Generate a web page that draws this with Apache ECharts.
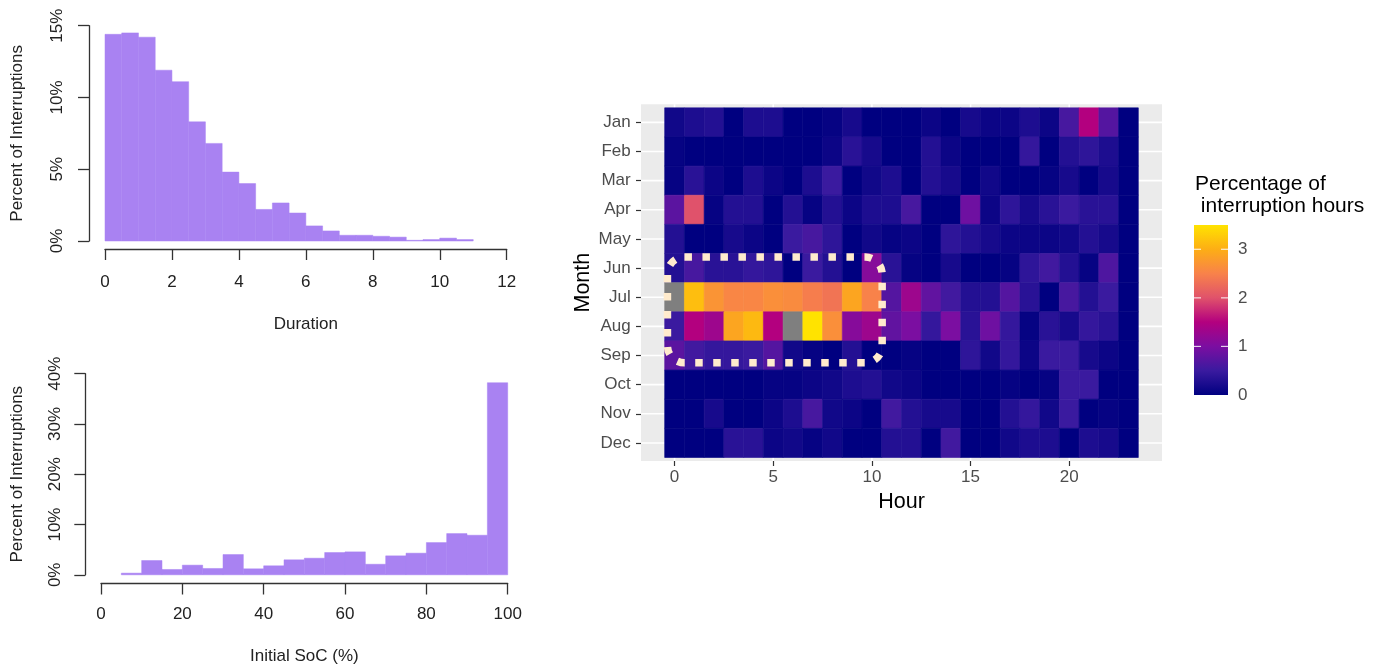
<!DOCTYPE html>
<html>
<head>
<meta charset="utf-8">
<script src="https://cdn.jsdelivr.net/npm/echarts@6/dist/echarts.min.js"></script>
<style>
  html, body { margin: 0; padding: 0; background: #fff; }
  #chart { width: 1388px; height: 666px; }
</style>
</head>
<body>
<div id="chart"></div>
<script>
// duration histogram (hours), bin edges and percent per bin
const durationEdges = [0, 0.5, 1, 1.5, 2, 2.5, 3, 3.5, 4, 4.5, 5, 5.5, 6, 6.5, 7, 7.5, 8, 8.5, 9, 9.5, 10, 10.5, 11];
const durationPct = [14.4, 14.5, 14.2, 11.9, 11.1, 8.3, 6.8, 4.8, 4.0, 2.2, 2.65, 1.95, 1.05, 0.7, 0.4, 0.4, 0.33, 0.27, 0.05, 0.1, 0.2, 0.1];

// initial SoC histogram
const socEdges = [5, 10, 15, 20, 25, 30, 35, 40, 45, 50, 55, 60, 65, 70, 75, 80, 85, 90, 95, 100];
const socPct = [0.33, 2.84, 1.06, 1.92, 1.26, 4.03, 1.19, 1.79, 2.98, 3.3, 4.43, 4.56, 2.1, 3.77, 4.3, 6.41, 8.2, 7.87, 38.2];

// heatmap: percentage of interruption hours, hour 0..23 per month (null = NA, drawn grey)
const months = ['Jan', 'Feb', 'Mar', 'Apr', 'May', 'Jun', 'Jul', 'Aug', 'Sep', 'Oct', 'Nov', 'Dec'];
const hourTicks = [0, 5, 10, 15, 20];
const jan = [0.15, 0.25, 0.3, 0, 0.25, 0.25, 0, 0, 0.05, 0.2, 0, 0, 0, 0.1, 0, 0.2, 0.1, 0.1, 0.25, 0.1, 0.6, 1.5, 0.7, 0];
const feb = [0.05, 0, 0, 0, 0, 0, 0, 0, 0.1, 0.35, 0.2, 0, 0, 0.3, 0.1, 0, 0, 0, 0.45, 0, 0.3, 0.4, 0.25, 0];
const mar = [0.05, 0.35, 0.1, 0, 0.25, 0.1, 0, 0.25, 0.5, 0, 0.15, 0.25, 0, 0.3, 0.2, 0, 0.15, 0, 0, 0.05, 0.2, 0, 0.2, 0];
const apr = [0.75, 2.0, 0.05, 0.3, 0.3, 0, 0.3, 0.05, 0.3, 0.1, 0.25, 0.25, 0.6, 0, 0, 0.9, 0.1, 0.4, 0.2, 0.35, 0.5, 0.35, 0.35, 0];
const may = [0.3, 0, 0, 0.2, 0.1, 0, 0.5, 0.6, 0.4, 0, 0.15, 0.05, 0.1, 0, 0.4, 0.3, 0.2, 0.1, 0.1, 0.1, 0.15, 0.3, 0.2, 0];
const jun = [0.3, 0.6, 0.35, 0.35, 0.45, 0.4, 0, 0.5, 0.3, 0, 1.1, 0.35, 0.05, 0, 0.2, 0, 0, 0.05, 0.4, 0.55, 0.3, 0.05, 0.65, 0];
const jul = [null, 3.15, 2.7, 2.55, 2.55, 2.65, 2.6, 2.45, 2.35, 2.9, 2.5, 0.7, 1.3, 0.8, 0.55, 0.3, 0.3, 0.7, 0.35, 0, 0.6, 0.3, 0.5, 0];
const aug = [0.5, 1.5, 1.3, 2.9, 3.1, 1.5, null, 3.5, 2.65, 1.1, 1.3, 0.8, 1.0, 0.45, 1.0, 0.35, 0.9, 0.45, 0.05, 0.35, 0.2, 0.45, 0.35, 0];
const sep = [0.75, 0.55, 0.45, 0.45, 0.5, 0.7, 0.15, 0.05, 0, 0.3, 0, 0, 0.05, 0, 0, 0.4, 0.15, 0.45, 0.1, 0.5, 0.5, 0.2, 0.1, 0];
const oct = [0, 0, 0, 0, 0, 0.05, 0.05, 0.1, 0.15, 0.25, 0.3, 0.15, 0.1, 0, 0, 0, 0, 0.05, 0, 0.05, 0.5, 0.5, 0, 0];
const nov = [0, 0, 0.2, 0, 0, 0.1, 0.25, 0.6, 0.15, 0.1, 0, 0.55, 0.3, 0.2, 0.2, 0, 0, 0.3, 0.45, 0.15, 0.5, 0, 0.05, 0];
const dec = [0, 0, 0, 0.35, 0.35, 0.1, 0.15, 0.05, 0.15, 0, 0, 0.3, 0.3, 0, 0.55, 0, 0, 0.15, 0.25, 0.25, 0, 0.25, 0.2, 0];
const legendTicks = [0, 1, 2, 3];

// highlighted block (hours / month index)
const boxHours = [-0.36, 10.52];
const boxMonths = [4.62, 8.25];

const font = 'Liberation Sans, Arial, Helvetica, sans-serif';
const barColor = '#a982f2';
const naColor = '#7f7f7f';
const heatColors = ['#000080', '#3a1a9f', '#7b0ea1', '#b3007f', '#e0526b', '#f8824a', '#fdae15', '#ffe300'];
const colorMin = 0, colorMax = 3.5;
const hourMin = -1.7, hourMax = 24.7;
const monthMin = -0.62, monthMax = 11.62;

const heatRows = [jan, feb, mar, apr, may, jun, jul, aug, sep, oct, nov, dec];
const heatData = [];
heatRows.forEach((row, m) => row.forEach((v, h) => heatData.push([h, m, v])));

const durationBins = durationPct.map((p, i) => [durationEdges[i], durationEdges[i + 1], p]);
const socBins = socPct.map((p, i) => [socEdges[i], socEdges[i + 1], p]);

function renderBin(params, api) {
  const a = api.coord([api.value(0), api.value(2)]);
  const b = api.coord([api.value(1), 0]);
  return {
    type: 'rect',
    shape: { x: a[0], y: a[1], width: b[0] - a[0], height: b[1] - a[1] },
    style: { fill: barColor, stroke: barColor, lineWidth: 0.5 },
  };
}

function renderCell(params, api) {
  const h = api.value(0), m = api.value(1), v = api.value(2);
  const a = api.coord([h - 0.5, m - 0.5]);
  const b = api.coord([h + 0.5, m + 0.5]);
  const fill = isNaN(v) ? naColor : api.visual('color');
  return {
    type: 'rect',
    shape: { x: Math.min(a[0], b[0]), y: Math.min(a[1], b[1]), width: Math.abs(b[0] - a[0]), height: Math.abs(b[1] - a[1]) },
    style: { fill: fill, stroke: fill, lineWidth: 0.6 },
  };
}

function renderColorBar(params, api) {
  const a = api.coord([api.value(0), api.value(1)]);
  const b = api.coord([api.value(2), api.value(3)]);
  const stops = heatColors.map((c, i) => ({ offset: i / (heatColors.length - 1), color: c }));
  const children = [{
    type: 'rect',
    shape: { x: a[0], y: a[1], width: b[0] - a[0], height: b[1] - a[1] },
    style: { fill: new echarts.graphic.LinearGradient(0, 1, 0, 0, stops) },
  }];
  legendTicks.slice(1).forEach((t) => {
    const y = api.coord([0, t])[1];
    children.push({ type: 'line', shape: { x1: a[0], y1: y, x2: a[0] + 7, y2: y }, style: { stroke: '#fff', lineWidth: 1.2, opacity: 0.8 } });
    children.push({ type: 'line', shape: { x1: b[0] - 7, y1: y, x2: b[0], y2: y }, style: { stroke: '#fff', lineWidth: 1.2, opacity: 0.8 } });
  });
  return { type: 'group', children };
}

const histX = (min, max, interval, offset, name, margin, gap, gridIndex) => ({
  type: 'value', gridIndex, min, max, interval, offset,
  name, nameLocation: 'middle', nameGap: gap,
  nameTextStyle: { color: '#222', fontSize: 17, fontFamily: font },
  axisLine: { onZero: false, lineStyle: { color: '#333', width: 1.3 } },
  axisTick: { length: 11, lineStyle: { color: '#333', width: 1.3 } },
  axisLabel: { color: '#222', fontSize: 17, fontFamily: font, margin },
  splitLine: { show: false },
});
const histY = (min, max, interval, offset, margin, gap, gridIndex) => ({
  type: 'value', gridIndex, min, max, interval, offset,
  name: 'Percent of Interruptions', nameLocation: 'middle', nameGap: gap, nameRotate: 90,
  nameTextStyle: { color: '#222', fontSize: 17, fontFamily: font },
  axisLine: { show: true, onZero: false, lineStyle: { color: '#333', width: 1.3 } },
  axisTick: { show: true, length: 11, lineStyle: { color: '#333', width: 1.3 } },
  axisLabel: { color: '#222', fontSize: 17, fontFamily: font, rotate: 90, margin, formatter: '{value}%' },
  splitLine: { show: false },
});

const option = {
  animation: false,
  backgroundColor: '#fff',
  title: {
    text: 'Percentage of\n interruption hours',
    left: 1195, top: 173, padding: 0,
    textStyle: { color: '#000', fontSize: 21, fontWeight: 'normal', fontFamily: font, lineHeight: 22 },
  },
  grid: [
    { left: 105, top: 25.7, width: 401.7, height: 215.3 },
    { left: 101, top: 373.7, width: 406.7, height: 201.6 },
    { left: 641, top: 104.3, width: 521, height: 356.7, show: true, backgroundColor: '#ebebeb', borderWidth: 0 },
    { left: 1194, top: 225, width: 34, height: 170 },
  ],
  xAxis: [
    histX(0, 12, 2, 8, 'Duration', 25, 67, 0),
    histX(0, 100, 20, 8.7, 'Initial SoC (%)', 22.5, 64.5, 1),
    {
      type: 'value', gridIndex: 2, min: hourMin, max: hourMax,
      name: 'Hour', nameLocation: 'middle', nameGap: 30,
      nameTextStyle: { color: '#000', fontSize: 21.5, fontFamily: font },
      axisLine: { show: false, onZero: false },
      axisTick: { show: true, length: 5, customValues: hourTicks, lineStyle: { color: '#333', width: 1.2 } },
      axisLabel: { color: '#4d4d4d', fontSize: 17, fontFamily: font, margin: 7.5, customValues: hourTicks },
      splitLine: { show: false },
    },
    { type: 'value', gridIndex: 3, min: 0, max: 1, show: false },
  ],
  yAxis: [
    histY(0, 15, 5, 16, 22.8, 62.8, 0),
    histY(0, 40, 10, 15.7, 21.8, 59.8, 1),
    {
      type: 'value', gridIndex: 2, min: monthMin, max: monthMax, inverse: true,
      name: 'Month', nameLocation: 'middle', nameGap: 47, nameRotate: 90,
      nameTextStyle: { color: '#000', fontSize: 21.5, fontFamily: font },
      axisLine: { show: false, onZero: false },
      axisTick: { show: true, length: 5, customValues: months.map((m, i) => i), lineStyle: { color: '#333', width: 1.2 } },
      axisLabel: {
        color: '#4d4d4d', fontSize: 17, fontFamily: font, margin: 10.3,
        customValues: months.map((m, i) => i),
        formatter: (v) => months[Math.round(v)],
      },
      splitLine: { show: false },
    },
    {
      type: 'value', gridIndex: 3, min: colorMin, max: colorMax, position: 'right',
      axisLine: { show: false, onZero: false },
      axisTick: { show: false },
      axisLabel: { color: '#4d4d4d', fontSize: 17, fontFamily: font, margin: 10, customValues: legendTicks },
      splitLine: { show: false },
    },
  ],
  visualMap: {
    type: 'continuous', show: false, min: colorMin, max: colorMax,
    dimension: 2, seriesIndex: 4,
    inRange: { color: heatColors },
  },
  series: [
    { type: 'custom', xAxisIndex: 0, yAxisIndex: 0, data: durationBins, renderItem: renderBin, silent: true },
    { type: 'custom', xAxisIndex: 1, yAxisIndex: 1, data: socBins, renderItem: renderBin, silent: true },
    {
      // horizontal panel gridlines at month centres
      type: 'custom', xAxisIndex: 2, yAxisIndex: 2, silent: true, z: 1,
      data: months.map((m, i) => [0, i]),
      renderItem: (params, api) => {
        const a = api.coord([hourMin, api.value(1)]);
        const b = api.coord([hourMax, api.value(1)]);
        return { type: 'line', shape: { x1: a[0], y1: a[1], x2: b[0], y2: b[1] }, style: { stroke: '#fff', lineWidth: 1.6 } };
      },
    },
    {
      // vertical panel gridlines at hour ticks
      type: 'custom', xAxisIndex: 2, yAxisIndex: 2, silent: true, z: 1,
      data: hourTicks.map((h) => [h, 0]),
      renderItem: (params, api) => {
        const a = api.coord([api.value(0), monthMin]);
        const b = api.coord([api.value(0), monthMax]);
        return { type: 'line', shape: { x1: a[0], y1: a[1], x2: b[0], y2: b[1] }, style: { stroke: '#fff', lineWidth: 1.6 } };
      },
    },
    { type: 'custom', xAxisIndex: 2, yAxisIndex: 2, data: heatData, renderItem: renderCell, silent: true, z: 2 },
    {
      // dotted highlight around the Jun-Sep / 0-10h block
      type: 'custom', xAxisIndex: 2, yAxisIndex: 2, silent: true, z: 3,
      data: [[boxHours[0], boxMonths[0], boxHours[1], boxMonths[1]]],
      renderItem: (params, api) => {
        const a = api.coord([api.value(0), api.value(1)]);
        const b = api.coord([api.value(2), api.value(3)]);
        return {
          type: 'rect',
          shape: { x: Math.min(a[0], b[0]), y: Math.min(a[1], b[1]), width: Math.abs(b[0] - a[0]), height: Math.abs(b[1] - a[1]), r: 17 },
          style: { fill: 'none', stroke: '#ffebcd', lineWidth: 7.5, lineDash: [7.5, 10.5], lineCap: 'butt' },
        };
      },
    },
    {
      // colour bar of the legend
      type: 'custom', xAxisIndex: 3, yAxisIndex: 3, silent: true, z: 2,
      data: [[0, colorMax, 1, colorMin]],
      renderItem: renderColorBar,
    },
  ],
};

const chart = echarts.init(document.getElementById('chart'));
chart.setOption(option);
</script>
</body>
</html>
